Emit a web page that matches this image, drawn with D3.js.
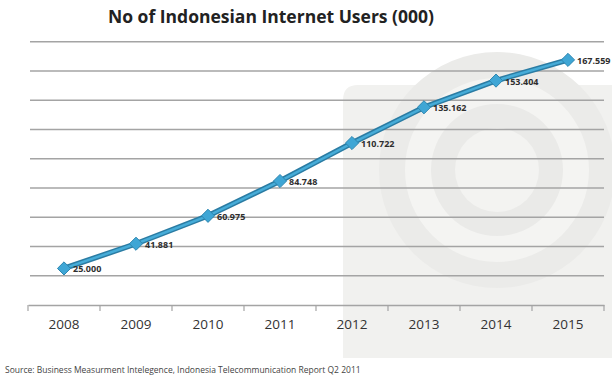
<!DOCTYPE html>
<html lang="en">
<head>
    <meta charset="UTF-8">
    <title>No of Indonesian Internet Users</title>
    <script src="https://cdn.jsdelivr.net/npm/d3@7"></script>
    <style>
        body { margin: 0; background: #fff; }
        text { font-family: "Open Sans", "DejaVu Sans", sans-serif; }
    </style>
</head>
<body>
<script>
    const years = ['2008', '2009', '2010', '2011', '2012', '2013', '2014', '2015']
    const users = [25000, 41881, 60975, 84748, 110722, 135162, 153404, 167559]
    const userLabels = ['25.000', '41.881', '60.975', '84.748', '110.722', '135.162', '153.404', '167.559']
    const yTicks = d3.range(0, 180001, 20000)

    const [width, height] = [612, 381]
    const svg = d3.select('body')
        .append('svg')
            .attr('width', width)
            .attr('height', height)

    // faint watermark in the lower right
    const wm = svg.append('g')
    wm.append('path')
        .attr('d', 'M343,100 Q343,85 358,85 L612,85 L612,358 L343,358 Z')
        .attr('fill', '#f1f1ef')
    const rings = [[118, '#ebebe9'], [92, '#f4f4f2'], [66, '#eaeae8'], [42, '#f3f3f1']]
    rings.forEach(([r, c]) => {
        wm.append('circle').attr('cx', 497).attr('cy', 170).attr('r', r).attr('fill', c)
    })

    const x = d3.scaleBand().domain(years).range([28, 604])
    const y = d3.scaleLinear().domain([0, 180000]).range([305, 41.7])

    // horizontal grid
    svg.append('g')
        .selectAll('line')
        .data(yTicks.slice(1))
        .join('line')
            .attr('x1', 30)
            .attr('x2', 604)
            .attr('y1', d => y(d))
            .attr('y2', d => y(d))
            .attr('stroke', '#a4a4a4')
            .attr('stroke-width', 1.5)

    // x axis
    const xAxis = d3.axisBottom(x).tickSize(0).tickPadding(14)
    const gx = svg.append('g')
        .attr('transform', `translate(0, ${y(0)})`)
        .call(xAxis)
    gx.select('.domain').attr('stroke', '#a4a4a4').attr('stroke-width', 1.5)
    gx.selectAll('text')
        .attr('font-size', 13.5)
        .attr('fill', '#333')
    svg.append('g')
        .selectAll('line')
        .data(years.concat(['end']))
        .join('line')
            .attr('x1', (d, i) => 28 + i * x.step())
            .attr('x2', (d, i) => 28 + i * x.step())
            .attr('y1', y(0))
            .attr('y2', y(0) + 6)
            .attr('stroke', '#a4a4a4')
            .attr('stroke-width', 1.2)

    // the series
    const pts = years.map((yr, i) => [x(yr) + x.bandwidth() / 2, y(users[i])])
    const line = d3.line()
    svg.append('path')
        .attr('d', line(pts))
        .attr('fill', 'none')
        .attr('stroke', '#2b7ca3')
        .attr('stroke-width', 5.5)
    svg.append('path')
        .attr('d', line(pts))
        .attr('fill', 'none')
        .attr('stroke', '#46acd8')
        .attr('stroke-width', 2.5)

    const diamond = d3.symbol().type(d3.symbolDiamond2).size(110)
    svg.append('g')
        .selectAll('path')
        .data(pts)
        .join('path')
            .attr('d', diamond)
            .attr('transform', d => `translate(${d[0]}, ${d[1]})`)
            .attr('fill', '#3fa6d5')
            .attr('stroke', '#2d86b0')
            .attr('stroke-width', 1)

    svg.append('g')
        .selectAll('text')
        .data(pts)
        .join('text')
            .attr('x', d => d[0] + 9)
            .attr('y', d => d[1] + 4)
            .attr('font-size', 9)
            .attr('font-weight', 'bold')
            .attr('fill', '#2e2e2e')
            .text((d, i) => userLabels[i])

    // title
    svg.append('text')
        .attr('x', 271)
        .attr('y', 23)
        .attr('text-anchor', 'middle')
        .attr('font-size', 17.5)
        .attr('font-weight', 'bold')
        .attr('fill', '#222')
        .text('No of Indonesian Internet Users (000)')

    // source note
    svg.append('text')
        .attr('x', 5)
        .attr('y', 373)
        .attr('font-size', 8.5)
        .attr('fill', '#444')
        .text('Source: Business Measurment Intelegence, Indonesia Telecommunication Report Q2 2011')
</script>
</body>
</html>
